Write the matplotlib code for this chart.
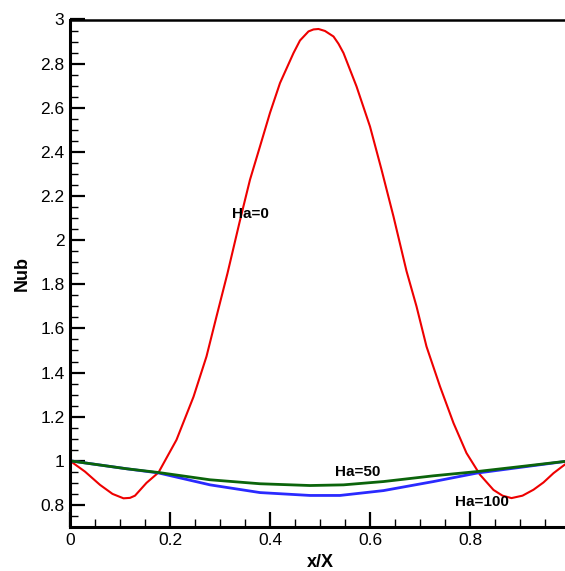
import matplotlib
matplotlib.use('Agg')
import matplotlib.pyplot as plt
from matplotlib.ticker import MultipleLocator

# Ha=0
x_ha0 = [0, 0.03, 0.06, 0.085, 0.107, 0.12, 0.13, 0.153, 0.177, 0.213, 0.247, 0.273,
         0.293, 0.315, 0.34, 0.36, 0.38, 0.40, 0.42, 0.447, 0.46, 0.477, 0.487, 0.497,
         0.51, 0.527, 0.537, 0.547, 0.573, 0.60, 0.623, 0.647, 0.673, 0.693, 0.713, 0.74,
         0.767, 0.793, 0.82, 0.847, 0.865, 0.883, 0.905, 0.927, 0.947, 0.967, 0.985, 1.0]
y_ha0 = [1.0, 0.951, 0.891, 0.85, 0.83, 0.832, 0.842, 0.90, 0.947, 1.095, 1.29, 1.473,
         1.654, 1.85, 2.09, 2.274, 2.425, 2.577, 2.712, 2.848, 2.905, 2.946, 2.955, 2.957,
         2.948, 2.923, 2.89, 2.848, 2.697, 2.515, 2.32, 2.107, 1.86, 1.70, 1.518, 1.337,
         1.171, 1.035, 0.937, 0.868, 0.842, 0.831, 0.842, 0.869, 0.902, 0.944, 0.975, 1.0]

# Ha=50
x_ha50 = [0, 0.113, 0.177, 0.28, 0.38, 0.48, 0.547, 0.627, 0.727, 0.813, 0.913, 1.0]
y_ha50 = [1.0, 0.964, 0.947, 0.914, 0.896, 0.888, 0.891, 0.906, 0.932, 0.951, 0.977, 1.0]

# Ha=100
x_ha100 = [0, 0.113, 0.177, 0.28, 0.38, 0.48, 0.54, 0.627, 0.727, 0.813, 0.913, 1.0]
y_ha100 = [1.0, 0.964, 0.945, 0.891, 0.856, 0.843, 0.843, 0.865, 0.906, 0.944, 0.974, 1.0]

plt.rcParams['font.family'] = ['Liberation Sans', 'DejaVu Sans']

fig = plt.figure(figsize=(5.65, 5.71), dpi=100)
ax = fig.add_axes([70 / 565, 44 / 571, 500 / 565, 507.5 / 571])

ax.plot(x_ha0, y_ha0, color='#ee0000', lw=1.5)
ax.plot(x_ha100, y_ha100, color='#2a2aff', lw=2.0)
ax.plot(x_ha50, y_ha50, color='#0b640b', lw=2.0)

ax.text(0.36, 2.12, 'Ha=0', fontsize=11, fontweight='bold', ha='center', va='center')
ax.text(0.576, 0.95, 'Ha=50', fontsize=11, fontweight='bold', ha='center', va='center')
ax.text(0.823, 0.815, 'Ha=100', fontsize=11, fontweight='bold', ha='center', va='center')

ax.set_xlim(0, 1)
ax.set_ylim(0.7, 3)
ax.xaxis.set_major_locator(MultipleLocator(0.2))
ax.xaxis.set_minor_locator(MultipleLocator(0.05))
ax.yaxis.set_major_locator(MultipleLocator(0.2))
ax.yaxis.set_minor_locator(MultipleLocator(0.05))
ax.xaxis.set_major_formatter(plt.FuncFormatter(lambda v, p: '%g' % round(v, 2)))
ax.yaxis.set_major_formatter(plt.FuncFormatter(lambda v, p: '%g' % round(v, 2)))

ax.tick_params(which='major', direction='in', length=11, width=1.6, labelsize=12.5, pad=4)
ax.tick_params(which='minor', direction='in', length=6, width=1)
ax.tick_params(top=False, right=False, which='both')

for s in ['left', 'bottom']:
    ax.spines[s].set_linewidth(2.2)
ax.spines['top'].set_linewidth(1.8)

ax.set_xlabel('x/X', fontsize=13, fontweight='bold')
ax.set_ylabel('Nub', fontsize=13, fontweight='bold')
ax.xaxis.label.set_va('center')
ax.yaxis.label.set_va('center')
ax.xaxis.set_label_coords(0.5, -0.069)
ax.yaxis.set_label_coords(-0.096, 0.5)

fig.savefig('out.png', dpi=100)
